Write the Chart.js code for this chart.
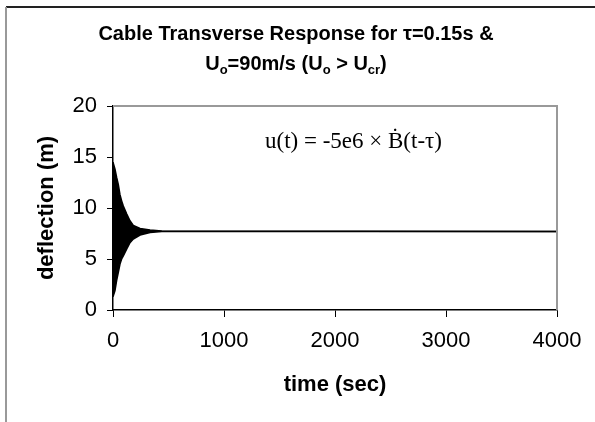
<!DOCTYPE html>
<html>
<head>
<meta charset="utf-8">
<script src="https://cdn.jsdelivr.net/npm/chart.js@4.4.0/dist/chart.umd.min.js"></script>
<style>
  html, body { margin: 0; padding: 0; background: #fff; }
  #wrap { width: 595px; height: 422px; position: relative; }
</style>
</head>
<body>
<div id="wrap"><canvas id="chart" width="595" height="422"></canvas></div>
<script>
// envelope of the decaying oscillation
var times = [0, 18, 33, 48, 63, 78, 93, 124, 153, 183, 244, 334, 440, 4000];
var upperValues = [14.5, 13.8, 13.0, 12.3, 11.3, 10.7, 10.2, 9.4, 8.75, 8.3, 8.0, 7.85, 7.75, 7.7];
var lowerValues = [1.3, 1.9, 2.9, 3.7, 4.5, 5.0, 5.3, 6.0, 6.6, 6.96, 7.35, 7.6, 7.7, 7.7];
var xTicks = [0, 1000, 2000, 3000, 4000];
var yTicks = [0, 5, 10, 15, 20];

var titleLine1 = [['Cable Transverse Response for τ=0.15s &', '']];
var titleLine2 = [['U', ''], ['o', 'sub'], ['=90m/s (U', ''], ['o', 'sub'], [' > U', ''], ['cr', 'sub'], [')', '']];
var formula = 'u(t) = -5e6 × Ḃ(t-τ)';

var sans = '"Liberation Sans", Arial, sans-serif';

function toPoints(xs, ys) {
  return xs.map(function (x, i) { return { x: x, y: ys[i] }; });
}

// draws a line of text with subscript runs, centred on cx
function drawRich(ctx, runs, cx, y, size) {
  var font = 'bold ' + size + 'px ' + sans;
  var subFont = 'bold ' + Math.round(size * 0.65) + 'px ' + sans;
  var total = 0;
  runs.forEach(function (r) {
    ctx.font = r[1] === 'sub' ? subFont : font;
    total += ctx.measureText(r[0]).width;
  });
  var x = cx - total / 2;
  ctx.textBaseline = 'alphabetic';
  ctx.textAlign = 'left';
  runs.forEach(function (r) {
    ctx.font = r[1] === 'sub' ? subFont : font;
    ctx.fillText(r[0], x, r[1] === 'sub' ? y + size * 0.2 : y);
    x += ctx.measureText(r[0]).width;
  });
}

var decorations = {
  id: 'decorations',
  beforeDraw: function (chart) {
    var ctx = chart.ctx;
    ctx.save();
    // outer frame
    ctx.strokeStyle = '#222';
    ctx.lineWidth = 2;
    ctx.beginPath();
    ctx.moveTo(6, 7);
    ctx.lineTo(595, 7);
    ctx.stroke();
    ctx.strokeStyle = '#999';
    ctx.beginPath();
    ctx.moveTo(6, 7);
    ctx.lineTo(6, 422);
    ctx.stroke();
    ctx.restore();
  },
  afterDraw: function (chart) {
    var ctx = chart.ctx;
    var a = chart.chartArea;
    ctx.save();
    // plot area top and right edges
    ctx.strokeStyle = '#999';
    ctx.lineWidth = 2;
    ctx.beginPath();
    ctx.moveTo(a.left, a.top);
    ctx.lineTo(a.right, a.top);
    ctx.lineTo(a.right, a.bottom);
    ctx.stroke();
    ctx.fillStyle = '#000';
    drawRich(ctx, titleLine1, 296, 40, 20);
    drawRich(ctx, titleLine2, 296, 70, 20);
    ctx.font = '23px "Liberation Serif", "Times New Roman", serif';
    ctx.textAlign = 'left';
    ctx.fillText(formula, 265, 148);
    ctx.restore();
  }
};

var ctx = document.getElementById('chart').getContext('2d');
new Chart(ctx, {
  type: 'line',
  data: {
    datasets: [
      {
        data: toPoints(times, upperValues),
        borderColor: '#000',
        backgroundColor: '#000',
        borderWidth: 1.5,
        pointRadius: 0,
        fill: '+1'
      },
      {
        data: toPoints(times, lowerValues),
        borderColor: '#000',
        borderWidth: 1.5,
        pointRadius: 0,
        fill: false
      }
    ]
  },
  plugins: [decorations],
  options: {
    responsive: false,
    animation: false,
    layout: { padding: { left: 30, right: 38, top: 106, bottom: 24 } },
    plugins: { legend: { display: false }, tooltip: { enabled: false } },
    scales: {
      x: {
        type: 'linear',
        min: 0,
        max: 4000,
        afterBuildTicks: function (s) { s.ticks = xTicks.map(function (v) { return { value: v }; }); },
        afterFit: function (s) { s.height = 88; },
        grid: { drawOnChartArea: false, drawTicks: true, tickLength: 7, color: '#000' },
        border: { color: '#000', width: 1.5 },
        ticks: {
          color: '#000', padding: 11, font: { size: 22, family: sans },
          callback: function (v) { return String(v); }
        },
        title: { display: true, text: 'time (sec)', color: '#000', padding: 0, font: { size: 22, weight: 'bold', family: sans } }
      },
      y: {
        min: 0,
        max: 20,
        afterBuildTicks: function (s) { s.ticks = yTicks.map(function (v) { return { value: v }; }); },
        afterFit: function (s) { s.width = 83; },
        grid: { drawOnChartArea: false, drawTicks: true, tickLength: 6, color: '#000' },
        border: { color: '#000', width: 1.5 },
        ticks: {
          color: '#000', padding: 10, font: { size: 22, family: sans },
          callback: function (v) { return String(v); }
        },
        title: { display: true, text: 'deflection (m)', color: '#000', padding: { top: 4, bottom: 0 }, font: { size: 22, weight: 'bold', family: sans } }
      }
    }
  }
});
</script>
</body>
</html>
